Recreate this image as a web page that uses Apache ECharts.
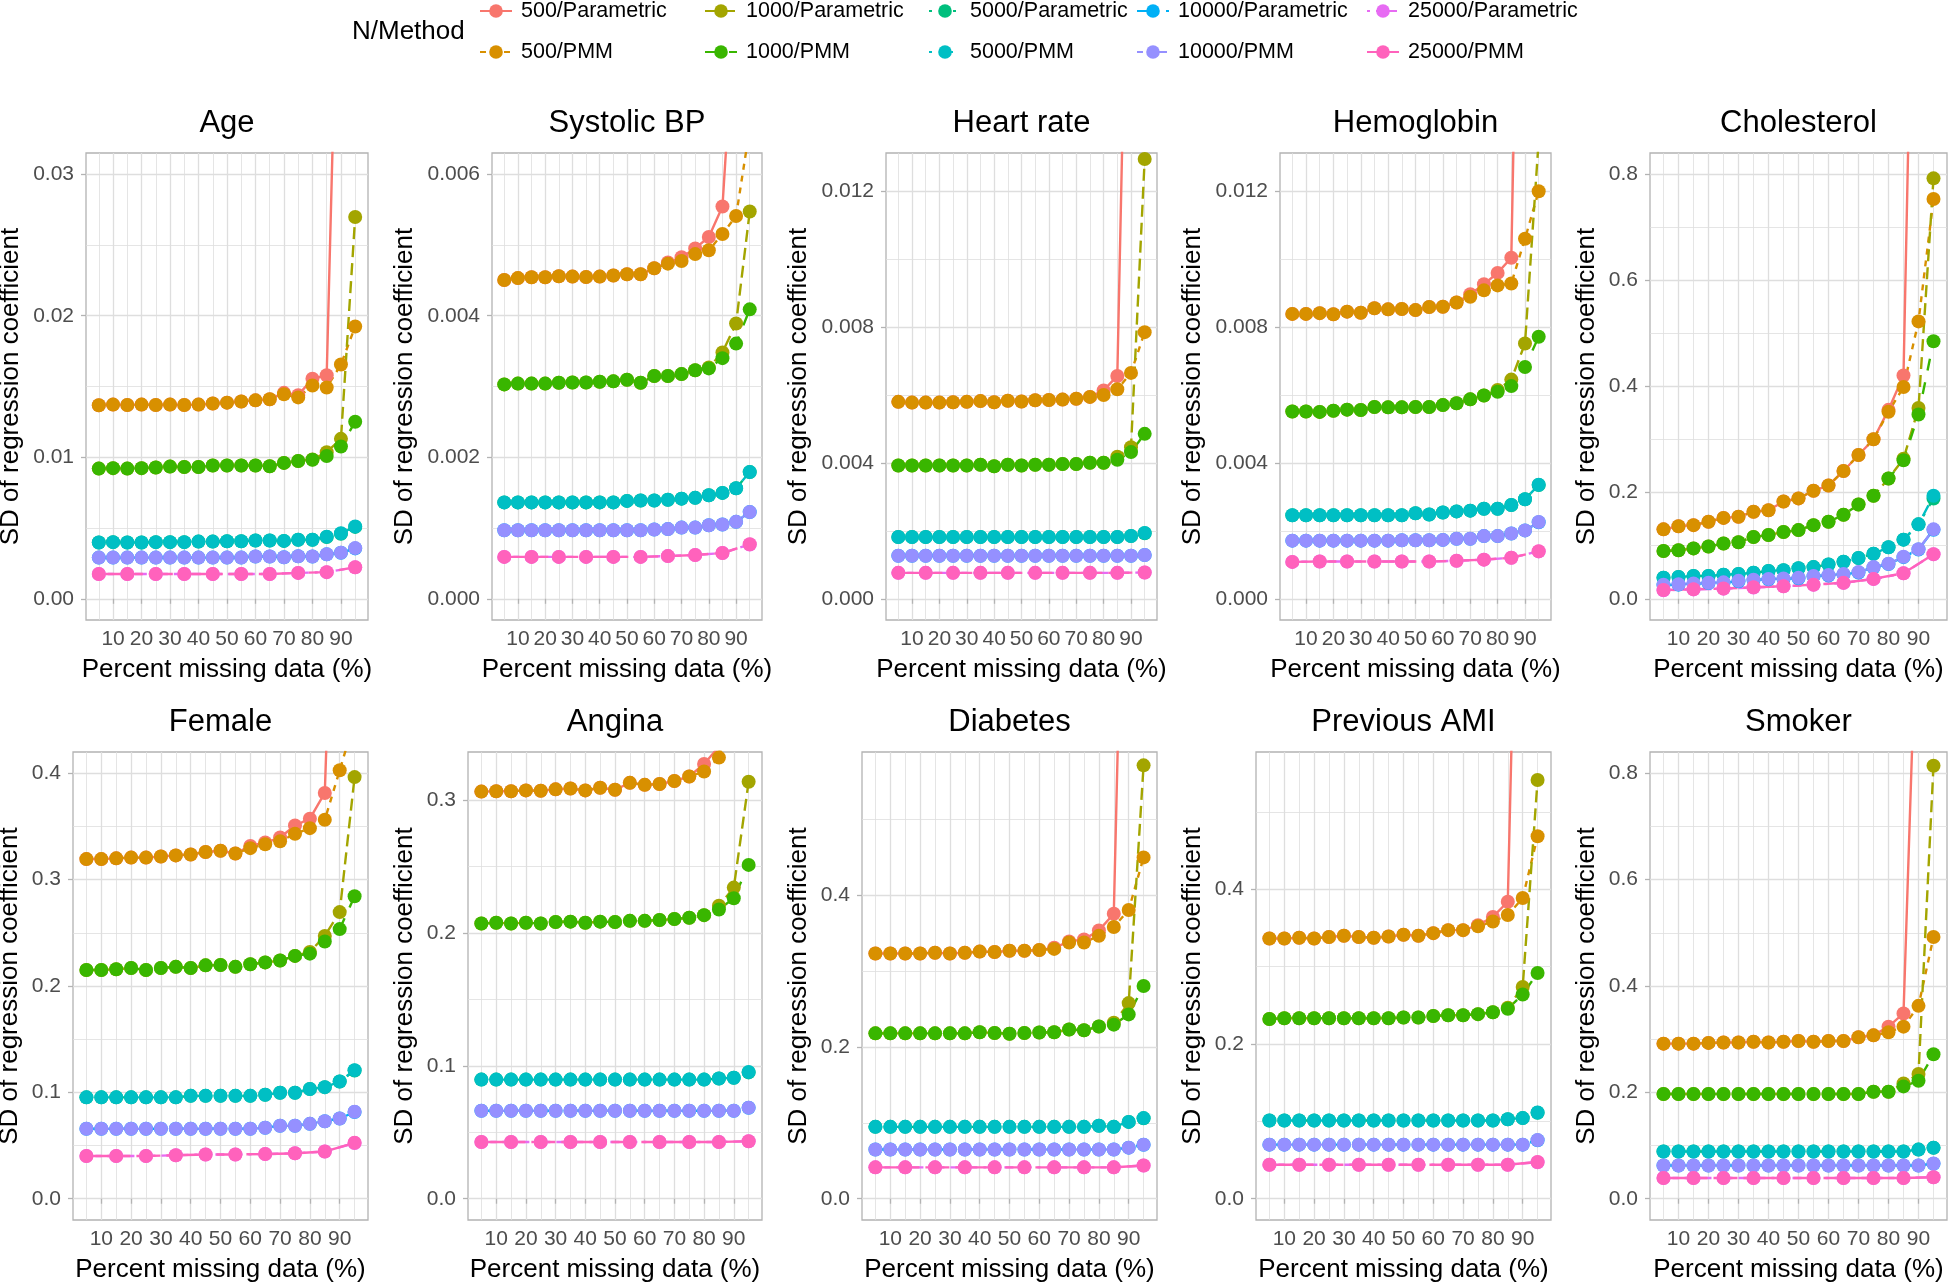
<!DOCTYPE html>
<html><head><meta charset="utf-8">
<script src="https://cdn.jsdelivr.net/npm/echarts@6/dist/echarts.min.js"></script>
<style>html,body{margin:0;padding:0;background:#fff}#c{width:1952px;height:1284px}</style>
</head><body><div id="c"></div>
<script>
// ---------------- DATA ----------------
const xPct = [5,10,15,20,25,30,35,40,45,50,55,60,65,70,75,80,85,90,95];
const xPct25k = [5,15,25,35,45,55,65,75,85,95];
const methodNames = ['500/Parametric','500/PMM','1000/Parametric','1000/PMM','5000/Parametric','5000/PMM','10000/Parametric','10000/PMM','25000/Parametric','25000/PMM'];
const panelTitles = ['Age','Systolic BP','Heart rate','Hemoglobin','Cholesterol','Female','Angina','Diabetes','Previous AMI','Smoker'];
const xTickLabels = [10,20,30,40,50,60,70,80,90];
const xMinorTicks = [5,15,25,35,45,55,65,75,85,95];

// Age
const age_P500 = [0.01367,0.01372,0.01369,0.01372,0.01369,0.01372,0.01369,0.01372,0.0138,0.01386,0.01394,0.01402,0.0141,0.01455,0.01439,0.01555,0.01579,0.055,0.09];
const age_M500 = [0.01367,0.01372,0.01369,0.01372,0.01369,0.01372,0.01369,0.01372,0.0138,0.01386,0.01394,0.01402,0.0141,0.01445,0.01423,0.01507,0.01493,0.01655,0.01924];
const age_P1000 = [0.0092,0.00923,0.0092,0.00923,0.00928,0.00934,0.00931,0.00931,0.00942,0.00942,0.00942,0.00942,0.00936,0.0096,0.00974,0.00985,0.01036,0.0113,0.02698];
const age_M1000 = [0.0092,0.00923,0.0092,0.00923,0.00928,0.00934,0.00931,0.00931,0.00942,0.00942,0.00942,0.00942,0.00936,0.0096,0.00974,0.00982,0.01009,0.01076,0.01251];
const age_P5000 = [0.00398,0.004,0.00398,0.00398,0.004,0.004,0.004,0.00404,0.00404,0.00406,0.00406,0.00412,0.00412,0.00409,0.00417,0.00417,0.00437,0.0046,0.00508];
const age_M5000 = [0.00398,0.004,0.00398,0.00398,0.004,0.004,0.004,0.00404,0.00404,0.00406,0.00406,0.00412,0.00412,0.00409,0.00417,0.00417,0.00439,0.00463,0.00511];
const age_P10000 = [0.00291,0.00291,0.00291,0.00291,0.00291,0.00291,0.00291,0.00291,0.00291,0.00291,0.00291,0.00299,0.00299,0.00293,0.00301,0.00299,0.00314,0.00325,0.00356];
const age_M10000 = [0.00291,0.00291,0.00291,0.00291,0.00291,0.00291,0.00291,0.00291,0.00291,0.00291,0.00291,0.00299,0.00299,0.00293,0.00301,0.00299,0.00315,0.00326,0.00358];
const age_P25000 = [0.00175,0.00175,0.00175,0.00175,0.00175,0.00175,0.00175,0.00183,0.00188,0.00222];
const age_M25000 = [0.00175,0.00175,0.00175,0.00175,0.00175,0.00175,0.00175,0.00183,0.00188,0.00223];

// Systolic BP
const sbp_P500 = [0.004505,0.004532,0.004543,0.004543,0.004559,0.004553,0.004548,0.004553,0.004569,0.004586,0.004586,0.004672,0.004752,0.004828,0.004951,0.005113,0.005543,0.0086,0.012];
const sbp_M500 = [0.004505,0.004532,0.004543,0.004543,0.004559,0.004553,0.004548,0.004553,0.004569,0.004586,0.004586,0.004672,0.004736,0.004774,0.004871,0.004925,0.005156,0.005409,0.00665];
const sbp_P1000 = [0.00303,0.003041,0.003041,0.003041,0.003052,0.003057,0.003057,0.003068,0.003073,0.003095,0.003052,0.003148,0.003148,0.003175,0.003229,0.00327,0.003482,0.003891,0.005473];
const sbp_M1000 = [0.00303,0.003041,0.003041,0.003041,0.003052,0.003057,0.003057,0.003068,0.003073,0.003095,0.003052,0.003148,0.003148,0.003175,0.003229,0.003256,0.003401,0.003606,0.00409];
const sbp_P5000 = [0.001362,0.001362,0.001362,0.001362,0.001362,0.001362,0.001362,0.001362,0.001362,0.001383,0.001388,0.001388,0.001399,0.001415,0.001426,0.001464,0.001496,0.001561,0.00179];
const sbp_M5000 = [0.001362,0.001362,0.001362,0.001362,0.001362,0.001362,0.001362,0.001362,0.001362,0.001383,0.001388,0.001388,0.001399,0.001415,0.001426,0.001464,0.001496,0.001561,0.001792];
const sbp_P10000 = [0.000969,0.000969,0.000969,0.000969,0.000969,0.000969,0.000969,0.000969,0.000969,0.000969,0.000969,0.00098,0.000985,0.001006,0.001006,0.001039,0.001049,0.001087,0.001225];
const sbp_M10000 = [0.000969,0.000969,0.000969,0.000969,0.000969,0.000969,0.000969,0.000969,0.000969,0.000969,0.000969,0.00098,0.000985,0.001006,0.001006,0.001039,0.001049,0.001087,0.001227];
const sbp_P25000 = [0.000592,0.000592,0.000592,0.000592,0.000592,0.000592,0.000603,0.000619,0.000646,0.000768];
const sbp_M25000 = [0.000592,0.000592,0.000592,0.000592,0.000592,0.000592,0.000603,0.000619,0.000646,0.00077];

// Heart rate
const hr_P500 = [0.005798,0.005776,0.005776,0.005776,0.005787,0.005798,0.00582,0.005787,0.005832,0.005809,0.005843,0.005854,0.005865,0.005888,0.005944,0.006134,0.006561,0.0256,0.035];
const hr_M500 = [0.005798,0.005776,0.005776,0.005776,0.005787,0.005798,0.00582,0.005787,0.005832,0.005809,0.005843,0.005854,0.005865,0.005888,0.005944,0.006,0.006168,0.00665,0.00785];
const hr_P1000 = [0.003925,0.003925,0.003925,0.003925,0.003925,0.003925,0.003947,0.003903,0.003947,0.003925,0.003947,0.003947,0.00397,0.00397,0.004004,0.004004,0.004183,0.004463,0.01295];
const hr_M1000 = [0.003925,0.003925,0.003925,0.003925,0.003925,0.003925,0.003947,0.003903,0.003947,0.003925,0.003947,0.003947,0.00397,0.00397,0.004004,0.004004,0.004093,0.004318,0.004856];
const hr_P5000 = [0.001817,0.001817,0.001817,0.001817,0.001817,0.001817,0.001817,0.001817,0.001817,0.001817,0.001817,0.001817,0.001817,0.001817,0.001817,0.001817,0.001817,0.00185,0.00193];
const hr_M5000 = [0.001817,0.001817,0.001817,0.001817,0.001817,0.001817,0.001817,0.001817,0.001817,0.001817,0.001817,0.001817,0.001817,0.001817,0.001817,0.001817,0.001817,0.00185,0.00194];
const hr_P10000 = [0.001267,0.001267,0.001267,0.001267,0.001267,0.001267,0.001267,0.001267,0.001267,0.001267,0.001267,0.001267,0.001267,0.001267,0.001267,0.001267,0.001267,0.001267,0.00129];
const hr_M10000 = [0.001267,0.001267,0.001267,0.001267,0.001267,0.001267,0.001267,0.001267,0.001267,0.001267,0.001267,0.001267,0.001267,0.001267,0.001267,0.001267,0.001267,0.001267,0.00129];
const hr_P25000 = [0.000763,0.000763,0.000763,0.000763,0.000763,0.000763,0.000763,0.000763,0.000763,0.000775];
const hr_M25000 = [0.000763,0.000763,0.000763,0.000763,0.000763,0.000763,0.000763,0.000763,0.000763,0.000775];

// Hemoglobin
const hgb_P500 = [0.008387,0.008387,0.00841,0.008376,0.008454,0.008421,0.008555,0.008521,0.008533,0.008499,0.008589,0.0086,0.008723,0.008969,0.00926,0.009595,0.01004,0.031,0.04];
const hgb_M500 = [0.008387,0.008387,0.00841,0.008376,0.008454,0.008421,0.008555,0.008521,0.008533,0.008499,0.008589,0.0086,0.008723,0.008891,0.009081,0.009226,0.009282,0.0106,0.012];
const hgb_P1000 = [0.005513,0.005513,0.005502,0.005536,0.005569,0.005558,0.005647,0.005636,0.005636,0.005647,0.005647,0.005703,0.005759,0.005871,0.005983,0.00615,0.006453,0.007515,0.0135];
const hgb_M1000 = [0.005513,0.005513,0.005502,0.005536,0.005569,0.005558,0.005647,0.005636,0.005636,0.005647,0.005647,0.005703,0.005759,0.005871,0.005983,0.006095,0.006262,0.006822,0.007716];
const hgb_P5000 = [0.00246,0.00246,0.00246,0.00246,0.00246,0.00246,0.00246,0.00246,0.00246,0.002516,0.002483,0.002539,0.002572,0.002594,0.00265,0.00265,0.002762,0.00293,0.00335];
const hgb_M5000 = [0.00246,0.00246,0.00246,0.00246,0.00246,0.00246,0.00246,0.00246,0.00246,0.002516,0.002483,0.002539,0.002572,0.002594,0.00265,0.00265,0.002762,0.00293,0.003355];
const hgb_P10000 = [0.001711,0.001711,0.001711,0.001711,0.001711,0.001711,0.001711,0.001711,0.001722,0.001722,0.001722,0.001733,0.001767,0.001767,0.001845,0.001845,0.001923,0.002013,0.002255];
const hgb_M10000 = [0.001711,0.001711,0.001711,0.001711,0.001711,0.001711,0.001711,0.001711,0.001722,0.001722,0.001722,0.001733,0.001767,0.001767,0.001845,0.001845,0.001923,0.002013,0.002259];
const hgb_P25000 = [0.001085,0.001096,0.001096,0.001096,0.001096,0.001096,0.001118,0.001152,0.001208,0.001395];
const hgb_M25000 = [0.001085,0.001096,0.001096,0.001096,0.001096,0.001096,0.001118,0.001152,0.001208,0.001398];

// Cholesterol
const chol_P500 = [0.1308,0.1366,0.1387,0.1452,0.1524,0.1546,0.1639,0.1668,0.1833,0.1891,0.2035,0.2135,0.2408,0.271,0.3005,0.356,0.4206,1.8,2.5];
const chol_M500 = [0.1308,0.1366,0.1387,0.1452,0.1524,0.1546,0.1639,0.1668,0.1833,0.1891,0.2035,0.2135,0.2408,0.271,0.3005,0.3523,0.399,0.5227,0.7534];
const chol_P1000 = [0.0899,0.0913,0.0949,0.0985,0.1042,0.1064,0.1165,0.1201,0.1258,0.1294,0.1387,0.1452,0.1582,0.1776,0.1941,0.2265,0.2638,0.3594,0.7922];
const chol_M1000 = [0.0899,0.0913,0.0949,0.0985,0.1042,0.1064,0.1165,0.1201,0.1258,0.1294,0.1387,0.1452,0.1582,0.1776,0.1941,0.2265,0.261,0.3472,0.4853];
const chol_P5000 = [0.0395,0.041,0.0431,0.0431,0.0453,0.0467,0.0489,0.0525,0.0539,0.0575,0.0597,0.0647,0.0697,0.0769,0.0848,0.0971,0.1114,0.1402,0.189];
const chol_M5000 = [0.0395,0.041,0.0431,0.0431,0.0453,0.0467,0.0489,0.0525,0.0539,0.0575,0.0597,0.0647,0.0697,0.0769,0.0848,0.0971,0.1114,0.1402,0.1941];
const chol_P10000 = [0.0258,0.0266,0.0281,0.0295,0.0302,0.0331,0.0352,0.0367,0.0374,0.0388,0.0424,0.0439,0.046,0.0496,0.059,0.0654,0.0784,0.0928,0.1301];
const chol_M10000 = [0.0266,0.0273,0.0288,0.0302,0.0309,0.0338,0.0359,0.0374,0.0381,0.0395,0.0431,0.0446,0.0467,0.0503,0.0597,0.0661,0.0791,0.0935,0.1308];
const chol_P25000 = [0.0162,0.0177,0.0191,0.0213,0.0234,0.0263,0.0299,0.0371,0.0479,0.0838];
const chol_M25000 = [0.0165,0.018,0.0194,0.0216,0.0237,0.0266,0.0302,0.0374,0.0482,0.0841];

// Female
const fem_P500 = [0.3193,0.3193,0.32,0.3207,0.3207,0.3218,0.3228,0.3236,0.326,0.3271,0.3246,0.3317,0.3349,0.3396,0.3509,0.3573,0.3815,0.8,1.2];
const fem_M500 = [0.3193,0.3193,0.32,0.3207,0.3207,0.3218,0.3228,0.3236,0.326,0.3271,0.3246,0.3296,0.3332,0.336,0.3431,0.3484,0.3563,0.4028,0.45];
const fem_P1000 = [0.2151,0.2151,0.2158,0.2169,0.2151,0.2169,0.218,0.2169,0.2194,0.2197,0.218,0.2204,0.2222,0.224,0.2283,0.232,0.2471,0.2695,0.3964];
const fem_M1000 = [0.2151,0.2151,0.2158,0.2169,0.2151,0.2169,0.218,0.2169,0.2194,0.2197,0.218,0.2204,0.2222,0.224,0.2283,0.2304,0.2418,0.2535,0.2844];
const fem_P5000 = [0.0953,0.0953,0.0953,0.0953,0.0953,0.0953,0.0953,0.0967,0.0967,0.0967,0.0967,0.0967,0.0978,0.0996,0.0996,0.1031,0.1049,0.1102,0.1205];
const fem_M5000 = [0.0953,0.0953,0.0953,0.0953,0.0953,0.0953,0.0953,0.0967,0.0967,0.0967,0.0967,0.0967,0.0978,0.0996,0.0996,0.1031,0.1049,0.1102,0.1209];
const fem_P10000 = [0.0658,0.0658,0.0658,0.0658,0.0658,0.0658,0.0658,0.0658,0.0658,0.0658,0.0658,0.0658,0.0668,0.0686,0.0686,0.0704,0.0729,0.0754,0.0815];
const fem_M10000 = [0.0658,0.0658,0.0658,0.0658,0.0658,0.0658,0.0658,0.0658,0.0658,0.0658,0.0658,0.0658,0.0668,0.0686,0.0686,0.0704,0.0729,0.0754,0.0818];
const fem_P25000 = [0.0402,0.0402,0.0402,0.0409,0.0416,0.0416,0.042,0.0427,0.0444,0.0524];
const fem_M25000 = [0.0402,0.0402,0.0402,0.0409,0.0416,0.0416,0.042,0.0427,0.0444,0.0526];

// Angina
const ang_P500 = [0.3062,0.3065,0.3065,0.3071,0.3068,0.3079,0.3085,0.3071,0.3091,0.3076,0.3128,0.3113,0.3119,0.3142,0.3176,0.327,0.34,0.6,0.9];
const ang_M500 = [0.3062,0.3065,0.3065,0.3071,0.3068,0.3079,0.3085,0.3071,0.3091,0.3076,0.3128,0.3113,0.3119,0.3142,0.3176,0.3213,0.3318,0.38,0.45];
const ang_P1000 = [0.207,0.2076,0.207,0.2076,0.207,0.2081,0.2084,0.2076,0.2084,0.2081,0.209,0.209,0.2096,0.2104,0.2113,0.2133,0.2204,0.234,0.3136];
const ang_M1000 = [0.207,0.2076,0.207,0.2076,0.207,0.2081,0.2084,0.2076,0.2084,0.2081,0.209,0.209,0.2096,0.2104,0.2113,0.2133,0.2175,0.226,0.2511];
const ang_P5000 = [0.0896,0.0896,0.0896,0.0896,0.0896,0.0896,0.0896,0.0896,0.0896,0.0896,0.0896,0.0896,0.0896,0.0896,0.0896,0.0896,0.0904,0.091,0.095];
const ang_M5000 = [0.0896,0.0896,0.0896,0.0896,0.0896,0.0896,0.0896,0.0896,0.0896,0.0896,0.0896,0.0896,0.0896,0.0896,0.0896,0.0896,0.0904,0.091,0.0953];
const ang_P10000 = [0.0662,0.0662,0.0662,0.0662,0.0662,0.0662,0.0662,0.0662,0.0662,0.0662,0.0662,0.0662,0.0662,0.0662,0.0662,0.0662,0.0662,0.0662,0.0684];
const ang_M10000 = [0.0662,0.0662,0.0662,0.0662,0.0662,0.0662,0.0662,0.0662,0.0662,0.0662,0.0662,0.0662,0.0662,0.0662,0.0662,0.0662,0.0662,0.0662,0.0685];
const ang_P25000 = [0.0427,0.0427,0.0427,0.0427,0.0427,0.0427,0.0427,0.0427,0.0427,0.0432];
const ang_M25000 = [0.0427,0.0427,0.0427,0.0427,0.0427,0.0427,0.0427,0.0427,0.0427,0.0432];

// Diabetes
const diab_P500 = [0.3228,0.3228,0.3228,0.3228,0.3238,0.3228,0.3238,0.3253,0.3248,0.3263,0.3263,0.3273,0.3303,0.3387,0.3412,0.3532,0.3751,1.2,1.8];
const diab_M500 = [0.3228,0.3228,0.3228,0.3228,0.3238,0.3228,0.3238,0.3253,0.3248,0.3263,0.3263,0.3273,0.3288,0.3372,0.3372,0.3462,0.3577,0.3801,0.4493];
const diab_P1000 = [0.2177,0.2177,0.2177,0.2177,0.2177,0.2177,0.2177,0.2192,0.2182,0.2172,0.2182,0.2187,0.2192,0.2227,0.2217,0.2267,0.2316,0.2575,0.5704];
const diab_M1000 = [0.2177,0.2177,0.2177,0.2177,0.2177,0.2177,0.2177,0.2192,0.2182,0.2172,0.2182,0.2187,0.2192,0.2227,0.2217,0.2267,0.2291,0.2426,0.28];
const diab_P5000 = [0.0946,0.0946,0.0946,0.0946,0.0946,0.0946,0.0946,0.0946,0.0946,0.0946,0.0946,0.0946,0.0946,0.0946,0.0946,0.0961,0.0946,0.1011,0.1058];
const diab_M5000 = [0.0946,0.0946,0.0946,0.0946,0.0946,0.0946,0.0946,0.0946,0.0946,0.0946,0.0946,0.0946,0.0946,0.0946,0.0946,0.0961,0.0946,0.1011,0.1061];
const diab_P10000 = [0.0648,0.0648,0.0648,0.0648,0.0648,0.0648,0.0648,0.0648,0.0648,0.0648,0.0648,0.0648,0.0648,0.0648,0.0648,0.0648,0.0648,0.0672,0.071];
const diab_M10000 = [0.0648,0.0648,0.0648,0.0648,0.0648,0.0648,0.0648,0.0648,0.0648,0.0648,0.0648,0.0648,0.0648,0.0648,0.0648,0.0648,0.0648,0.0672,0.0712];
const diab_P25000 = [0.0413,0.0413,0.0413,0.0413,0.0413,0.0413,0.0413,0.0413,0.0413,0.0437];
const diab_M25000 = [0.0413,0.0413,0.0413,0.0413,0.0413,0.0413,0.0413,0.0413,0.0413,0.0438];

// Previous AMI
const ami_P500 = [0.3364,0.3364,0.3374,0.3364,0.3384,0.3399,0.3384,0.3374,0.3389,0.3413,0.3399,0.3433,0.3472,0.3472,0.3535,0.3643,0.3839,1.2,1.8];
const ami_M500 = [0.3364,0.3364,0.3374,0.3364,0.3384,0.3399,0.3384,0.3374,0.3389,0.3413,0.3399,0.3433,0.3472,0.3472,0.3521,0.3584,0.3667,0.3888,0.4685];
const ami_P1000 = [0.2323,0.2333,0.2333,0.2333,0.2333,0.2333,0.2333,0.2333,0.2333,0.2342,0.2342,0.2362,0.2372,0.2372,0.2386,0.2411,0.2469,0.2738,0.5413];
const ami_M1000 = [0.2323,0.2333,0.2333,0.2333,0.2333,0.2333,0.2333,0.2333,0.2333,0.2342,0.2342,0.2362,0.2372,0.2372,0.2386,0.2411,0.2455,0.2641,0.2919];
const ami_P5000 = [0.1012,0.1012,0.1012,0.1012,0.1012,0.1012,0.1012,0.1012,0.1012,0.1012,0.1012,0.1012,0.1012,0.1012,0.1012,0.1012,0.1027,0.1042,0.1112];
const ami_M5000 = [0.1012,0.1012,0.1012,0.1012,0.1012,0.1012,0.1012,0.1012,0.1012,0.1012,0.1012,0.1012,0.1012,0.1012,0.1012,0.1012,0.1027,0.1042,0.1115];
const ami_P10000 = [0.0699,0.0699,0.0699,0.0699,0.0699,0.0699,0.0699,0.0699,0.0699,0.0699,0.0699,0.0699,0.0699,0.0699,0.0699,0.0699,0.0699,0.0699,0.0755];
const ami_M10000 = [0.0699,0.0699,0.0699,0.0699,0.0699,0.0699,0.0699,0.0699,0.0699,0.0699,0.0699,0.0699,0.0699,0.0699,0.0699,0.0699,0.0699,0.0699,0.0758];
const ami_P25000 = [0.044,0.044,0.044,0.044,0.044,0.044,0.044,0.044,0.044,0.0472];
const ami_M25000 = [0.044,0.044,0.044,0.044,0.044,0.044,0.044,0.044,0.044,0.0474];

// Smoker
const smk_P500 = [0.2916,0.2916,0.2916,0.293,0.2937,0.2937,0.2951,0.2937,0.2951,0.2965,0.2951,0.2965,0.2965,0.3036,0.3072,0.3236,0.3484,1.22,1.8];
const smk_M500 = [0.2916,0.2916,0.2916,0.293,0.2937,0.2937,0.2951,0.2937,0.2951,0.2965,0.2951,0.2965,0.2965,0.3036,0.3072,0.3129,0.3236,0.3627,0.4921];
const smk_P1000 = [0.197,0.197,0.197,0.197,0.197,0.197,0.197,0.197,0.197,0.197,0.197,0.197,0.197,0.197,0.2012,0.2012,0.2169,0.2347,0.8142];
const smk_M1000 = [0.197,0.197,0.197,0.197,0.197,0.197,0.197,0.197,0.197,0.197,0.197,0.197,0.197,0.197,0.2012,0.2012,0.2112,0.2219,0.2716];
const smk_P5000 = [0.0889,0.0889,0.0889,0.0889,0.0889,0.0889,0.0889,0.0889,0.0889,0.0889,0.0889,0.0889,0.0889,0.0889,0.0889,0.0889,0.0889,0.0924,0.0957];
const smk_M5000 = [0.0889,0.0889,0.0889,0.0889,0.0889,0.0889,0.0889,0.0889,0.0889,0.0889,0.0889,0.0889,0.0889,0.0889,0.0889,0.0889,0.0889,0.0924,0.096];
const smk_P10000 = [0.0626,0.0626,0.0626,0.0626,0.0626,0.0626,0.0626,0.0626,0.0626,0.0626,0.0626,0.0626,0.0626,0.0626,0.0626,0.0626,0.0626,0.0626,0.0659];
const smk_M10000 = [0.0626,0.0626,0.0626,0.0626,0.0626,0.0626,0.0626,0.0626,0.0626,0.0626,0.0626,0.0626,0.0626,0.0626,0.0626,0.0626,0.0626,0.0626,0.0661];
const smk_P25000 = [0.0391,0.0391,0.0391,0.0391,0.0391,0.0391,0.0391,0.0391,0.0391,0.0404];
const smk_M25000 = [0.0391,0.0391,0.0391,0.0391,0.0391,0.0391,0.0391,0.0391,0.0391,0.0405];

// y tick labels (major) and minor grid values per panel
const age_yTicks = [0, 0.01, 0.02, 0.03];        const age_yMinor = [0.005, 0.015, 0.025];
const sbp_yTicks = [0, 0.002, 0.004, 0.006];     const sbp_yMinor = [0.001, 0.003, 0.005];
const hr_yTicks = [0, 0.004, 0.008, 0.012];      const hr_yMinor = [0.002, 0.006, 0.01];
const hgb_yTicks = [0, 0.004, 0.008, 0.012];     const hgb_yMinor = [0.002, 0.006, 0.01];
const chol_yTicks = [0, 0.2, 0.4, 0.6, 0.8];     const chol_yMinor = [0.1, 0.3, 0.5, 0.7];
const fem_yTicks = [0, 0.1, 0.2, 0.3, 0.4];      const fem_yMinor = [0.05, 0.15, 0.25, 0.35];
const ang_yTicks = [0, 0.1, 0.2, 0.3];           const ang_yMinor = [0.05, 0.15, 0.25];
const diab_yTicks = [0, 0.2, 0.4];               const diab_yMinor = [0.1, 0.3, 0.5];
const ami_yTicks = [0, 0.2, 0.4];                const ami_yMinor = [0.1, 0.3, 0.5];
const smk_yTicks = [0, 0.2, 0.4, 0.6, 0.8];      const smk_yMinor = [0.1, 0.3, 0.5, 0.7];

// ---------------- ASSEMBLY ----------------
const panelSeries = [
  [age_P500,age_M500,age_P1000,age_M1000,age_P5000,age_M5000,age_P10000,age_M10000,age_P25000,age_M25000],
  [sbp_P500,sbp_M500,sbp_P1000,sbp_M1000,sbp_P5000,sbp_M5000,sbp_P10000,sbp_M10000,sbp_P25000,sbp_M25000],
  [hr_P500,hr_M500,hr_P1000,hr_M1000,hr_P5000,hr_M5000,hr_P10000,hr_M10000,hr_P25000,hr_M25000],
  [hgb_P500,hgb_M500,hgb_P1000,hgb_M1000,hgb_P5000,hgb_M5000,hgb_P10000,hgb_M10000,hgb_P25000,hgb_M25000],
  [chol_P500,chol_M500,chol_P1000,chol_M1000,chol_P5000,chol_M5000,chol_P10000,chol_M10000,chol_P25000,chol_M25000],
  [fem_P500,fem_M500,fem_P1000,fem_M1000,fem_P5000,fem_M5000,fem_P10000,fem_M10000,fem_P25000,fem_M25000],
  [ang_P500,ang_M500,ang_P1000,ang_M1000,ang_P5000,ang_M5000,ang_P10000,ang_M10000,ang_P25000,ang_M25000],
  [diab_P500,diab_M500,diab_P1000,diab_M1000,diab_P5000,diab_M5000,diab_P10000,diab_M10000,diab_P25000,diab_M25000],
  [ami_P500,ami_M500,ami_P1000,ami_M1000,ami_P5000,ami_M5000,ami_P10000,ami_M10000,ami_P25000,ami_M25000],
  [smk_P500,smk_M500,smk_P1000,smk_M1000,smk_P5000,smk_M5000,smk_P10000,smk_M10000,smk_P25000,smk_M25000]
];
const panelYTicks = [age_yTicks,sbp_yTicks,hr_yTicks,hgb_yTicks,chol_yTicks,fem_yTicks,ang_yTicks,diab_yTicks,ami_yTicks,smk_yTicks];
const panelYMinor = [age_yMinor,sbp_yMinor,hr_yMinor,hgb_yMinor,chol_yMinor,fem_yMinor,ang_yMinor,diab_yMinor,ami_yMinor,smk_yMinor];
// visible y range (coord limits incl. expansion) and label decimals
const yRanges = [[-0.0015,0.0315],[-0.0003,0.0063],[-0.000625,0.013125],[-0.000625,0.013125],[-0.04,0.84],
                 [-0.02,0.42],[-0.016,0.336],[-0.028,0.588],[-0.0275,0.5775],[-0.04,0.84]];
const yDecimals = [2,3,3,3,1,1,1,1,1,1];

// ---------------- LAYOUT / STYLE ----------------
const FONT = '"Liberation Sans", Arial, Helvetica, sans-serif';
const gridBoxes = [
  {left:86,  top:153, width:282, height:467},
  {left:492, top:153, width:270, height:467},
  {left:886, top:153, width:271, height:467},
  {left:1280,top:153, width:271, height:467},
  {left:1650,top:153, width:297, height:467},
  {left:73,  top:752, width:295, height:468},
  {left:468, top:752, width:294, height:468},
  {left:862, top:752, width:295, height:468},
  {left:1256,top:752, width:295, height:468},
  {left:1650,top:752, width:297, height:468}
];
const yNameGaps = [62,74,74,74,50,50,50,50,50,50];
const colors = ['#F8766D','#D89000','#A3A500','#39B600','#00BF7D','#00BFC4','#00B0F6','#9590FF','#E76BF3','#FF62BC'];
const dashes = ['solid',[6,6],[12,6],[12,12],[3,9],[3,9,12,9],[20,9],[6,6,18,6],[3,6,6,6,9,6,12,6],[44,6,24,6]];
const legendColLeft = [479, 704, 928, 1136, 1366];

const grid = [], xAxis = [], yAxis = [], series = [], title = [], legend = [];
const GRID_MAJOR = '#DEDEDE', BORDER = '#B3B3B3';

gridBoxes.forEach((b, p) => {
  grid.push(Object.assign({show:true, borderColor:BORDER, borderWidth:1.3, backgroundColor:'#fff', containLabel:false, outerBoundsMode:'none'}, b));
  const xr = [0.5, 99.5];
  xAxis.push({
    gridIndex:p, type:'value', min:xr[0], max:xr[1], position:'bottom',
    axisLine:{show:false},
    axisTick:{show:true, length:5, lineStyle:{color:BORDER, width:1.3}, customValues:xTickLabels},
    axisLabel:{show:true, customValues:xTickLabels, fontSize:21, color:'#4D4D4D', margin:9, fontFamily:FONT},
    splitLine:{show:true, lineStyle:{color:GRID_MAJOR, width:1.3}},
    name:'Percent missing data (%)', nameLocation:'middle', nameGap:37,
    nameTextStyle:{fontSize:26, color:'#000', fontFamily:FONT}
  });
  xAxis.push({
    gridIndex:p, type:'value', min:xr[0], max:xr[1], position:'bottom',
    axisLine:{show:false}, axisTick:{show:false, customValues:xMinorTicks},
    axisLabel:{show:false, customValues:xMinorTicks},
    splitLine:{show:true, lineStyle:{color:GRID_MAJOR, width:0.8}}
  });
  const yr = yRanges[p], dec = yDecimals[p];
  yAxis.push({
    gridIndex:p, type:'value', min:yr[0], max:yr[1], position:'left',
    axisLine:{show:false},
    axisTick:{show:true, length:5, lineStyle:{color:BORDER, width:1.3}, customValues:panelYTicks[p]},
    axisLabel:{show:true, customValues:panelYTicks[p], fontSize:21, color:'#4D4D4D', margin:12, fontFamily:FONT,
      formatter:(v)=>Number(v).toFixed(dec)},
    splitLine:{show:true, lineStyle:{color:GRID_MAJOR, width:1.3}},
    name:'SD of regression coefficient', nameLocation:'middle', nameGap:yNameGaps[p],
    nameTextStyle:{fontSize:26, color:'#000', fontFamily:FONT}
  });
  yAxis.push({
    gridIndex:p, type:'value', min:yr[0], max:yr[1], position:'left',
    axisLine:{show:false}, axisTick:{show:false, customValues:panelYMinor[p]},
    axisLabel:{show:false, customValues:panelYMinor[p]},
    splitLine:{show:true, lineStyle:{color:GRID_MAJOR, width:0.8}}
  });
  title.push({
    text: panelTitles[p], left: b.left + b.width/2, top: (p < 5 ? 108 : 707), textAlign:'center', padding:0,
    textStyle:{fontSize:31, fontWeight:'normal', color:'#000', fontFamily:FONT}
  });
  panelSeries[p].forEach((vals, m) => {
    const xs = m >= 8 ? xPct25k : xPct;
    const data = xs.map((x, i) => [x, vals[i]]);
    series.push({
      type:'line', name:methodNames[m], xAxisIndex:2*p, yAxisIndex:2*p, data,
      symbol:'circle', symbolSize:14, showSymbol:false, clip:true, z:2,
      lineStyle:{color:colors[m], width:2.4, type:dashes[m]}, itemStyle:{color:colors[m]},
      emphasis:{disabled:true}, silent:true, animation:false
    });
  });
  panelSeries[p].forEach((vals, m) => {
    const xs = m >= 8 ? xPct25k : xPct;
    const data = xs.map((x, i) => [x, vals[i]]);
    series.push({
      type:'scatter', name:methodNames[m], xAxisIndex:2*p, yAxisIndex:2*p, data,
      symbol:'circle', symbolSize:14, clip:true, z:3,
      itemStyle:{color:colors[m], opacity:1},
      emphasis:{disabled:true}, silent:true, animation:false
    });
  });
});

title.push({text:'N/Method', left:352, top:19, padding:0,
  textStyle:{fontSize:26, fontWeight:'normal', color:'#000', fontFamily:FONT}});

methodNames.forEach((n, i) => {
  legend.push({
    data:[n], left: legendColLeft[Math.floor(i/2)], top: (i % 2 === 0 ? 0 : 41),
    orient:'horizontal', itemWidth:32, itemHeight:17, padding:0, selectedMode:false,
    textStyle:{fontSize:21.5, color:'#000', fontFamily:FONT, padding:[0,0,0,4]}
  });
});

const chart = echarts.init(document.getElementById('c'), null, {renderer:'canvas', width:1952, height:1284});
chart.setOption({
  animation:false, backgroundColor:'#fff',
  textStyle:{fontFamily:FONT},
  title, legend, grid, xAxis, yAxis, series
});
</script>
</body></html>
